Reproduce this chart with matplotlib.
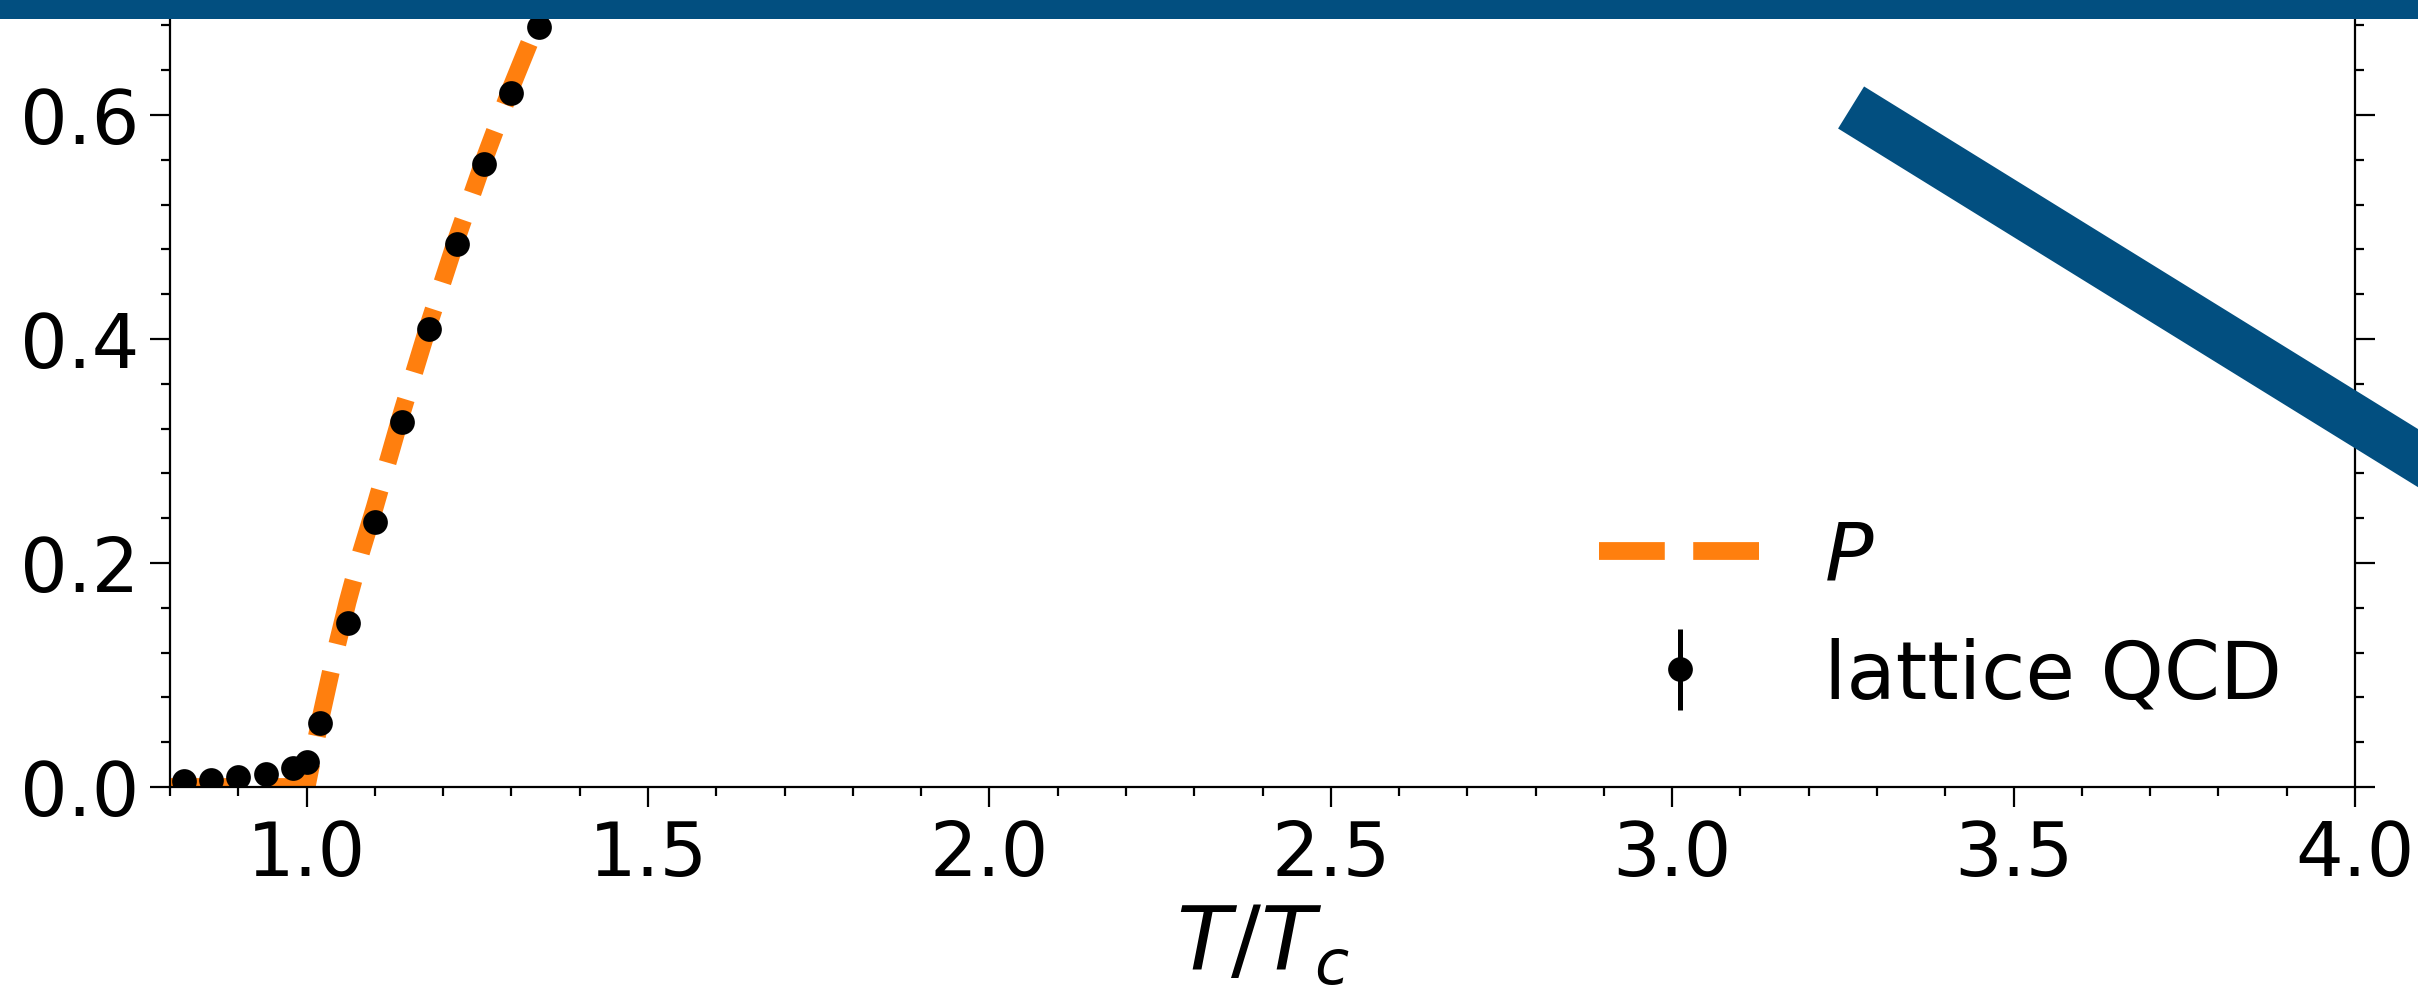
import matplotlib
matplotlib.use("Agg")
import matplotlib.pyplot as plt
from matplotlib.ticker import MultipleLocator
from matplotlib.patches import Rectangle, PathPatch
from matplotlib.path import Path

# lattice QCD data
lat_T = [0.82, 0.86, 0.90, 0.94, 0.98, 1.00, 1.02, 1.06, 1.10, 1.14, 1.18, 1.22, 1.26, 1.30, 1.34]
lat_P = [0.0056, 0.0065, 0.0086, 0.0119, 0.0167, 0.022, 0.057, 0.146, 0.237, 0.326, 0.409, 0.485, 0.556, 0.620, 0.679]
lat_err = [0.004] * len(lat_T)

# model curve P
mod_T = [0.80, 1.00, 1.02, 1.04, 1.06, 1.08, 1.10, 1.14, 1.18, 1.22, 1.26, 1.30, 1.34, 1.38, 1.42]
mod_P = [0.0, 0.0, 0.06, 0.115, 0.165, 0.21, 0.25, 0.335, 0.415, 0.49, 0.56, 0.625, 0.685, 0.745, 0.80]

# thick blue segment
seg_T = [3.262, 5.20]
seg_P = [0.6067, -0.1240]

BLUE = "#024f80"
ORANGE = "#ff7f0e"

fig = plt.figure(figsize=(12.09, 4.935), dpi=200)
ax = fig.add_axes([170/2418, 1-788/987, (2355-170)/2418, (788-4)/987])

ax.plot(mod_T, mod_P, ls="--", color=ORANGE, lw=6.4, label="$P$", zorder=2)
ax.errorbar(lat_T, lat_P, yerr=lat_err, fmt="o", color="black", ms=7.9,
            elinewidth=1.8, capsize=0, label="lattice QCD", zorder=3)

seg_path = Path(list(zip(seg_T, seg_P)))
ax.add_patch(PathPatch(seg_path, facecolor=BLUE, edgecolor=BLUE, lw=17.8,
                       capstyle="butt", clip_on=False, zorder=4))

ax.set_xlim(0.8, 4.0)
ax.set_ylim(0.0, 0.7)
ax.xaxis.set_major_locator(MultipleLocator(0.5))
ax.xaxis.set_minor_locator(MultipleLocator(0.1))
ax.yaxis.set_major_locator(MultipleLocator(0.2))
ax.yaxis.set_minor_locator(MultipleLocator(0.04))
ax.tick_params(which="both", direction="out", top=True, right=True, width=0.8)
ax.tick_params(which="major", length=7.2, labelsize=27, pad=4)
ax.tick_params(which="minor", length=3.4)
for s in ax.spines.values():
    s.set_linewidth(0.8)

ax.set_xlabel("$T/T_c$", fontsize=32)
ax.legend(loc="lower right", frameon=False, fontsize=29)

fig.patches.append(Rectangle((0, 1-20/987), 1, 20/987, transform=fig.transFigure,
                             facecolor=BLUE, edgecolor="none", zorder=10))

fig.savefig("out.png", dpi=200)
